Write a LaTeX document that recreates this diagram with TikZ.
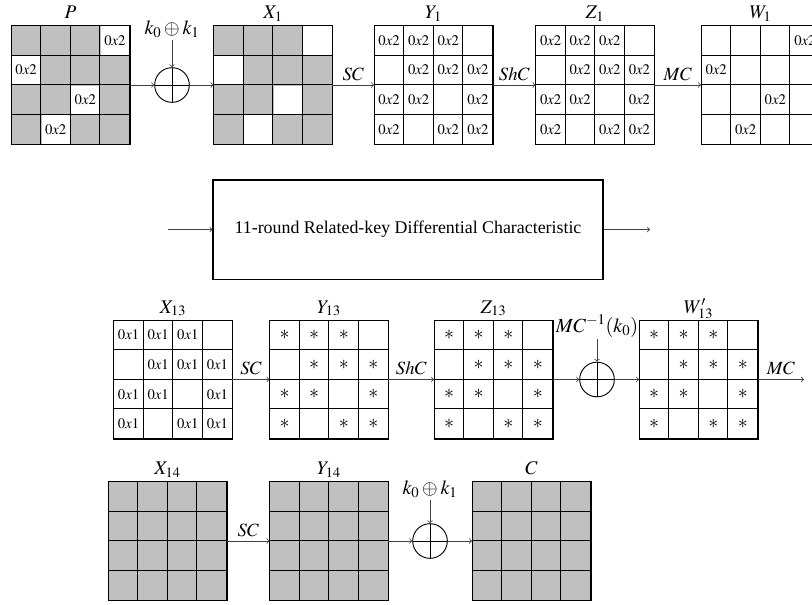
\documentclass[tikz,border=0pt]{standalone}
\usepackage{mathptmx}
\usepackage{fontspec}
\setmainfont{Liberation Serif}
\usetikzlibrary{calc}

\definecolor{cellgray}{RGB}{192,192,192}

\tikzset{
    statebox/.style={minimum width=88.8pt, minimum height=88.8pt, inner sep=0pt},
    gridline/.style={line width=0.8pt},
    cell/.style={fill=white, minimum size=21.2pt, inner sep=0pt, font=\fontsize{11}{12}\selectfont},
    title/.style={anchor=base, inner sep=0pt, font=\fontsize{14.5}{16}\selectfont},
    flow/.style={->, black!75, line width=0.6pt},
    op/.style={above, inner sep=3pt, text=black, font=\fontsize{14}{16}\selectfont},
    keytext/.style={inner sep=2pt, font=\fontsize{15}{17}\selectfont},
    oplus/.style={circle, draw, line width=0.7pt, minimum size=26pt, inner sep=0pt,
        path picture={\draw[line width=0.7pt] (path picture bounding box.north) -- (path picture bounding box.south)
            (path picture bounding box.west) -- (path picture bounding box.east);}},
    roundbox/.style={draw, line width=0.8pt, minimum width=292.5pt, minimum height=74.3pt, font=\fontsize{13.4}{15}\selectfont}
}

% a 4x4 state: name, centre, fill, title
\newcommand{\state}[4]{%
    \node[statebox, fill=#3] (#1) at (#2) {};
    \foreach \r in {1,...,4}
        \foreach \c in {1,...,4}
            \coordinate (#1-\r-\c) at ($(#1)+(\c*29.6-74,\r*29.6-74)$);
    \draw[gridline] (#1.north west) rectangle (#1.south east);
    \foreach \k in {1,2,3} {
        \draw[gridline] ($(#1.north west)+(\k*29.6,0)$) -- ($(#1.south west)+(\k*29.6,0)$);
        \draw[gridline] ($(#1.north west)+(0,\k*29.6)$) -- ($(#1.north east)+(0,\k*29.6)$);
    }
    \node[title] at ($(#1.north)+(0,-7)$) {#4};
}
% write a text in the listed cells
\newcommand{\putcells}[3]{%
    \foreach \p in #2
        \node[cell] at (#1-\p) {#3};
}
\newcommand{\diffmark}{{\fontsize{15}{15}\selectfont$\ast$}}
\def\diagcells{1-4,2-1,3-3,4-2}
\def\diffcells{1-1,1-2,1-3,2-2,2-3,2-4,3-1,3-2,3-4,4-1,4-3,4-4}

\begin{document}
\begin{tikzpicture}[x=0.75pt, y=-0.75pt]
    \clip (0,0) rectangle (812,604);

    % first round
    \state{P}{70.5,85}{cellgray}{$P$}
    \putcells{P}{\diagcells}{$0x2$}
    \node[oplus] (xor1) at (172,85) {};
    \node[keytext] (key1) at (172,29) {$k_0\oplus k_1$};
    \state{X1}{273,85}{cellgray}{$X_1$}
    \putcells{X1}{\diagcells}{}
    \state{Y1}{433.5,85}{white}{$Y_1$}
    \putcells{Y1}{\diffcells}{$0x2$}
    \state{Z1}{595,85}{white}{$Z_1$}
    \putcells{Z1}{\diffcells}{$0x2$}
    \state{W1}{760.5,85}{white}{$W_1$}
    \putcells{W1}{\diagcells}{$0x2$}

    \draw[flow] (P) -- (xor1);
    \draw[flow] (key1) -- (xor1);
    \draw[flow] (xor1) -- (X1);
    \draw[flow] (X1) -- node[op]{$SC$} (Y1);
    \draw[flow] (Y1) -- node[op]{$ShC$} (Z1);
    \draw[flow] (Z1) -- node[op]{$MC$} (W1);

    % middle rounds
    \node[roundbox] (rk) at (408,229.5) {11-round Related-key Differential Characteristic};
    \coordinate (rin) at (168,229.5);
    \coordinate (rout) at (650,229.5);
    \draw[flow] (rin) -- (rk);
    \draw[flow] (rk) -- (rout);

    % round 13
    \state{X13}{173,379.5}{white}{$X_{13}$}
    \putcells{X13}{\diffcells}{$0x1$}
    \state{Y13}{329,379.5}{white}{$Y_{13}$}
    \putcells{Y13}{\diffcells}{\diffmark}
    \state{Z13}{493.5,379.5}{white}{$Z_{13}$}
    \putcells{Z13}{\diffcells}{\diffmark}
    \node[oplus] (xor2) at (597,379.5) {};
    \node[keytext, inner sep=1.5pt] (key2) at (597,326) {$MC^{-1}(k_0)$};
    \state{W13}{698.5,379.5}{white}{$W'_{13}$}
    \putcells{W13}{\diffcells}{\diffmark}
    \coordinate (mcend) at (804,379.5);

    \draw[flow] (X13) -- node[op]{$SC$} (Y13);
    \draw[flow] (Y13) -- node[op]{$ShC$} (Z13);
    \draw[flow] (Z13) -- (xor2);
    \draw[flow] (key2) -- (xor2);
    \draw[flow] (xor2) -- (W13);
    \draw[flow] (W13) -- node[op]{$MC$} (mcend);

    % last round
    \state{X14}{167.5,541}{cellgray}{$X_{14}$}
    \state{Y14}{329,541}{cellgray}{$Y_{14}$}
    \node[oplus] (xor3) at (430,541) {};
    \node[keytext] (key3) at (430,489) {$k_0\oplus k_1$};
    \state{C}{531.5,541}{cellgray}{$C$}

    \draw[flow] (X14) -- node[op]{$SC$} (Y14);
    \draw[flow] (Y14) -- (xor3);
    \draw[flow] (key3) -- (xor3);
    \draw[flow] (xor3) -- (C);

\end{tikzpicture}
\end{document}
